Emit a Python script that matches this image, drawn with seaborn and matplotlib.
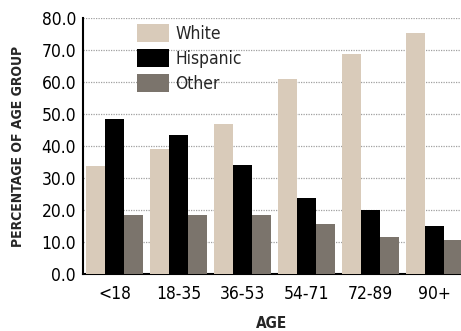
import matplotlib
matplotlib.use("Agg")
import matplotlib.pyplot as plt
import seaborn as sns
import pandas as pd

age_groups = ["<18", "18-35", "36-53", "54-71", "72-89", "90+"]
white = [33.8, 39.0, 46.9, 60.9, 68.8, 75.3]
hispanic = [48.4, 43.4, 34.0, 23.7, 20.0, 15.0]
other = [18.4, 18.4, 18.4, 15.6, 11.6, 10.6]
series_names = ["White", "Hispanic", "Other"]
colors = ["#D9CBBA", "#000000", "#7B746C"]
y_ticks = [0, 10, 20, 30, 40, 50, 60, 70, 80]

df = pd.DataFrame({
    "age": age_groups * 3,
    "pct": white + hispanic + other,
    "group": [s for s in series_names for _ in age_groups],
})

sns.set_theme(style="white")
plt.rcParams["font.family"] = ["DejaVu Sans"]
plt.rcParams["font.stretch"] = "condensed"

fig = plt.figure(figsize=(4.61, 3.31), dpi=100)
ax = fig.add_axes([0.18, 0.172, 0.82, 0.7736])

sns.barplot(data=df, x="age", y="pct", hue="group", order=age_groups,
            hue_order=series_names, palette=colors, width=0.9, saturation=1,
            edgecolor="none", linewidth=0, ax=ax, zorder=3)

ax.set_ylim(0, 80)
ax.set_xlim(-0.49, 5.41)
ax.set_yticks(y_ticks)
ax.set_yticklabels([f"{v:.1f}" for v in y_ticks])
ax.yaxis.grid(True, linestyle=(0, (1, 1)), color="#a0a0a0", linewidth=0.9, zorder=0)
ax.xaxis.grid(False)
ax.set_axisbelow(True)

for side in ["top", "right"]:
    ax.spines[side].set_visible(False)
for side in ["left", "bottom"]:
    ax.spines[side].set_color("black")
    ax.spines[side].set_linewidth(1.5)

ax.tick_params(axis="both", length=0, labelsize=12.5, colors="black", pad=5)
ax.tick_params(axis="x", pad=8)

ax.set_xlabel("AGE", fontsize=11, fontweight="bold", labelpad=9)
ax.set_ylabel("PERCENTAGE OF AGE GROUP", fontsize=10, fontweight="bold", labelpad=12)

leg = ax.legend(loc="upper left", bbox_to_anchor=(0.143, 0.975), frameon=False,
                fontsize=12.5, handlelength=1.85, handleheight=1.2,
                handletextpad=0.35, labelspacing=0.35, borderaxespad=0, borderpad=0)

fig.savefig("out.png", dpi=100)
